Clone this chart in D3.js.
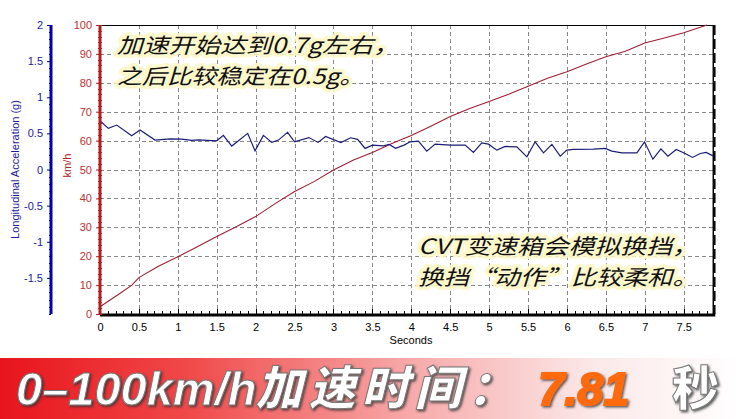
<!DOCTYPE html>
<html><head><meta charset="utf-8">
<script src="https://cdn.jsdelivr.net/npm/d3@7"></script>
<style>
html,body{margin:0;padding:0;background:#fff;}
svg{display:block;}
</style></head>
<body>
<svg id="c" width="741" height="419"></svg>
<script>
// ---- data ----
const speedTime = [0,0.25,0.41,0.5,0.75,1.0,1.25,1.5,1.75,2.0,2.25,2.5,2.75,3.0,3.25,3.5,3.75,4.0,4.25,4.5,4.75,5.0,5.25,5.5,5.75,6.0,6.25,6.5,6.75,7.0,7.25,7.5,7.8];
const speedKmh  = [2.5,7,10,12.6,16.5,19.8,23.3,26.8,30.2,33.7,38.2,42.4,45.8,49.8,53.2,55.9,59.0,61.8,65.0,68.3,71.1,73.5,76.0,78.8,81.6,83.8,86.5,89.0,90.9,93.8,95.5,97.3,100];
const accTime = [0.00,0.107,0.215,0.407,0.514,0.707,0.900,1.050,1.179,1.264,1.500,1.585,1.693,1.898,1.992,2.099,2.207,2.292,2.410,2.500,2.684,2.802,2.899,3.095,3.220,3.310,3.406,3.502,3.641,3.715,3.798,3.907,3.985,4.091,4.199,4.306,4.499,4.692,4.798,4.906,4.991,5.099,5.206,5.356,5.485,5.591,5.698,5.806,5.913,5.998,6.084,6.341,6.491,6.577,6.706,6.898,6.996,7.104,7.207,7.297,7.404,7.519,7.613,7.712,7.789,7.883];
const accG = [0.675,0.569,0.615,0.467,0.546,0.407,0.425,0.421,0.403,0.411,0.397,0.472,0.324,0.500,0.258,0.472,0.375,0.407,0.514,0.382,0.442,0.375,0.458,0.372,0.439,0.417,0.292,0.338,0.328,0.347,0.293,0.338,0.383,0.393,0.254,0.351,0.338,0.338,0.236,0.369,0.351,0.268,0.319,0.314,0.175,0.383,0.231,0.347,0.185,0.268,0.278,0.282,0.292,0.254,0.231,0.231,0.383,0.143,0.286,0.185,0.278,0.222,0.167,0.222,0.236,0.185];
const xTicks = [0,0.5,1,1.5,2,2.5,3,3.5,4,4.5,5,5.5,6,6.5,7,7.5];
const kmhTicks = [0,10,20,30,40,50,60,70,80,90,100];
const gTicks = [-1.5,-1,-0.5,0,0.5,1,1.5,2];
const note1 = ["加速开始达到0.7g左右，","之后比较稳定在0.5g。"];
const note2 = ["CVT变速箱会模拟换挡，","换挡“动作”比较柔和。"];
const bannerLatin = "0–100km/h";
const bannerCjk = "加速时间：";
const bannerValue = "7.81";
const bannerUnit = "秒";

// ---- layout ----
const L = 100, R = 713.3, T = 25, B = 314;
const svg = d3.select("#c");
const x = d3.scaleLinear().domain([0,7.88]).range([L,R]);
const yK = d3.scaleLinear().domain([0,100]).range([B,T]);
const yG = d3.scaleLinear().domain([-2,2]).range([B,T]);
const font = "'Liberation Sans', Arial, sans-serif";
const fmt = d => String(d);

// grid
const grid = svg.append("g").attr("stroke","#888").attr("stroke-width",1).attr("stroke-dasharray","4,3");
grid.selectAll("line.v").data(xTicks.filter(d=>d>0)).join("line")
  .attr("x1",d=>Math.round(x(d))+0.5).attr("x2",d=>Math.round(x(d))+0.5).attr("y1",T).attr("y2",B);
grid.selectAll("line.h").data(kmhTicks.filter(d=>d>0&&d<100)).join("line")
  .attr("y1",d=>Math.round(yK(d))+0.5).attr("y2",d=>Math.round(yK(d))+0.5).attr("x1",L).attr("x2",R);

// border top/right
svg.append("line").attr("x1",L).attr("x2",R).attr("y1",T+0.5).attr("y2",T+0.5).attr("stroke","#000");
svg.append("line").attr("x1",R).attr("x2",R).attr("y1",T).attr("y2",B).attr("stroke","#000").attr("stroke-width",1.5);
svg.append("line").attr("x1",R+1.5).attr("x2",R+1.5).attr("y1",T).attr("y2",B).attr("stroke","#000").attr("stroke-width",1.5).attr("stroke-dasharray","10,4");

// lines
svg.append("path").datum(d3.zip(speedTime,speedKmh))
  .attr("fill","none").attr("stroke","#a01e34").attr("stroke-width",1.1)
  .attr("d",d3.line().x(d=>x(d[0])).y(d=>yK(d[1])));
svg.append("path").datum(d3.zip(accTime,accG))
  .attr("fill","none").attr("stroke","#1c1c78").attr("stroke-width",1.2)
  .attr("d",d3.line().x(d=>x(d[0])).y(d=>yG(d[1])));

// bottom axis
const xa = svg.append("g").attr("transform",`translate(0,${B})`)
  .call(d3.axisBottom(x).tickValues(xTicks).tickFormat(fmt).tickSize(0).tickPadding(9));
xa.select(".domain").remove();
xa.selectAll("text").attr("font-family",font).attr("font-size",11).attr("fill","#000");
const xMinor = d3.range(0,79).map(i=>i/10);
svg.append("g").selectAll("line").data(xMinor).join("line")
  .attr("x1",d=>Math.round(x(d))+0.5).attr("x2",d=>Math.round(x(d))+0.5)
  .attr("y1",B).attr("y2",d=>B-(Math.abs(d*2-Math.round(d*2))<1e-6?5:3)).attr("stroke","#000");
svg.append("line").attr("x1",L).attr("x2",R+2).attr("y1",B+1).attr("y2",B+1).attr("stroke","#000").attr("stroke-width",3);
svg.append("text").attr("x",411).attr("y",344).attr("text-anchor","middle")
  .attr("font-family",font).attr("font-size",11).text("Seconds");

// km/h axis
const ka = svg.append("g").attr("transform",`translate(${L},0)`)
  .call(d3.axisLeft(yK).tickValues(kmhTicks).tickFormat(fmt).tickSize(4).tickPadding(4));
ka.select(".domain").remove();
ka.selectAll("line").attr("stroke","#b02020");
ka.selectAll("text").attr("font-family",font).attr("font-size",11).attr("fill","#c03030");
svg.append("g").selectAll("line").data(d3.range(0,101,2)).join("line")
  .attr("y1",d=>Math.round(yK(d))+0.5).attr("y2",d=>Math.round(yK(d))+0.5)
  .attr("x1",L-2).attr("x2",L+2).attr("stroke","#b02020");
svg.append("line").attr("x1",L).attr("x2",L).attr("y1",T).attr("y2",B+1).attr("stroke","#b02020").attr("stroke-width",3);
svg.append("text").attr("transform",`translate(71,${(T+B)/2-4}) rotate(-90)`).attr("text-anchor","middle")
  .attr("font-family",font).attr("font-size",11).attr("fill","#b02020").text("km/h");

// g axis
const AX = 51;
const ga = svg.append("g").attr("transform",`translate(${AX},0)`)
  .call(d3.axisLeft(yG).tickValues(gTicks).tickFormat(fmt).tickSize(4).tickPadding(4));
ga.select(".domain").remove();
ga.selectAll("line").attr("stroke","#0000a8");
ga.selectAll("text").attr("font-family",font).attr("font-size",11).attr("fill","#1a1a9a");
svg.append("g").selectAll("line").data(d3.range(-20,21).map(i=>i/10)).join("line")
  .attr("y1",d=>Math.round(yG(d))+0.5).attr("y2",d=>Math.round(yG(d))+0.5)
  .attr("x1",AX-2).attr("x2",AX).attr("stroke","#0000a8");
svg.append("line").attr("x1",AX).attr("x2",AX).attr("y1",T).attr("y2",B).attr("stroke","#0000a8").attr("stroke-width",3);
svg.append("text").attr("transform",`translate(19,${(T+B)/2}) rotate(-90)`).attr("text-anchor","middle")
  .attr("font-family",font).attr("font-size",11).attr("fill","#1a1a9a").text("Longitudinal Acceleration (g)");

// annotations
const cjk = "'Noto Sans CJK SC','Noto Sans',sans-serif";
function note(lines, widths, x0, y0, dy){
  const g = svg.append("g");
  lines.forEach((s,i)=>{
    g.append("text").attr("x",x0).attr("y",y0+i*dy).text(s)
      .attr("font-family",cjk).attr("font-size",21).attr("font-style","italic")
      .attr("textLength",widths[i]).attr("lengthAdjust","spacingAndGlyphs")
      .attr("fill","#111").attr("stroke","#fdf8c8").attr("stroke-width",7)
      .attr("stroke-linejoin","round").attr("paint-order","stroke").attr("stroke-opacity",0.9);
  });
}
note(note1,[282,247],117,53,31);
note(note2,[280,280],418,254,31);

// banner
const defs = svg.append("defs");
const lg = defs.append("linearGradient").attr("id","bg").attr("x1","0").attr("x2","1").attr("y1","0").attr("y2","0");
[["0%","#e8141c"],["25%","#f04848"],["55%","#f7a8a8"],["80%","#fce8e8"],["100%","#ffffff"]]
  .forEach(s=>lg.append("stop").attr("offset",s[0]).attr("stop-color",s[1]));
const fl = defs.append("filter").attr("id","sh").attr("x","-5%").attr("y","-20%").attr("width","110%").attr("height","140%");
fl.append("feDropShadow").attr("dx",1.5).attr("dy",1.5).attr("stdDeviation",1.2).attr("flood-color","#333").attr("flood-opacity",0.8);
svg.append("rect").attr("x",0).attr("y",358).attr("width",741).attr("height",61).attr("fill","url(#bg)");
const bt = svg.append("text").attr("x",16).attr("y",405).attr("filter","url(#sh)")
  .attr("font-style","italic").attr("fill","#fff").attr("stroke","#777").attr("stroke-width",1);
bt.append("tspan").attr("font-family","'Liberation Sans',Arial,sans-serif").attr("font-weight",700)
  .attr("font-size",47).text(bannerLatin);
bt.append("tspan").attr("font-family","'Noto Sans CJK SC',sans-serif").attr("font-weight",900)
  .attr("font-size",47).attr("letter-spacing",6).attr("dx",-1).text(bannerCjk);
svg.append("text").attr("x",538).attr("y",405).attr("filter","url(#sh)")
  .attr("font-family","'Liberation Sans',Arial,sans-serif").attr("font-weight",700)
  .attr("font-style","italic").attr("font-size",47).attr("fill","#ff6a10")
  .attr("stroke","#ff6a10").attr("stroke-width",2)
  .text(bannerValue);
svg.append("text").attr("x",672).attr("y",405).attr("filter","url(#sh)")
  .attr("font-family","'Noto Sans CJK SC',sans-serif").attr("font-weight",900)
  .attr("font-size",47).attr("fill","#fff").attr("stroke","#777").attr("stroke-width",1)
  .text(bannerUnit);
</script>
</body></html>
